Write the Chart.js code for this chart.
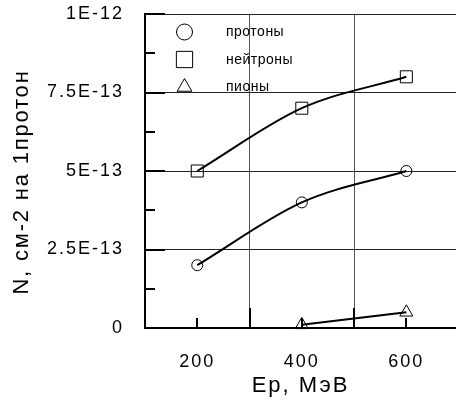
<!DOCTYPE html>
<html lang="ru">
<head>
<meta charset="UTF-8">
<title>N от Ep</title>
<script src="https://cdn.jsdelivr.net/npm/chart.js"></script>
<style>
  html, body { margin: 0; padding: 0; background: #fff; }
</style>
</head>
<body>
<div style="width: 456px; height: 402px">
  <canvas id="myChart" width="456" height="402"></canvas>
</div>
<script>
// данные
const energy = [200, 400, 600];
const protons = [2e-13, 4e-13, 5e-13];
const neutrons = [5e-13, 7e-13, 8e-13];
const pionEnergy = [400, 600];
const pions = [1e-14, 5e-14];
const seriesNames = ['протоны', 'нейтроны', 'пионы'];

const xTickLabels = [200, 400, 600];
const xGridValues = [300, 500];
const yTickValues = [0, 2.5e-13, 5e-13, 7.5e-13, 1e-12];
const yTickLabels = ['0', '2.5E-13', '5E-13', '7.5E-13', '1E-12'];
const yMinorStep = 1.25e-13;
const xTitle = 'Ep, МэВ';
const yTitle = 'N, см-2 на 1протон';

const FONT = 'Arial, "Liberation Sans", sans-serif';
Chart.defaults.font.family = FONT;
Chart.defaults.color = '#000';

function pairs(xs, ys) {
    return xs.map((x, i) => ({ x: x, y: ys[i] }));
}

// разрядка букв как в оригинале
const spacing = {
    id: 'spacing',
    beforeDraw(chart) {
        chart.ctx.letterSpacing = '2px';
    }
};

// верхняя рамка, засечки на осях, подпись оси Y
const frame = {
    id: 'frame',
    afterDatasetsDraw(chart) {
        const { ctx, chartArea: a, scales } = chart;
        ctx.save();
        ctx.strokeStyle = '#222';
        ctx.lineWidth = 1;
        ctx.beginPath();
        ctx.moveTo(a.left, a.top + 0.5);
        ctx.lineTo(a.right, a.top + 0.5);
        ctx.stroke();

        ctx.strokeStyle = '#000';
        ctx.lineWidth = 2;
        ctx.beginPath();
        for (let i = 0; i <= 8; i++) {
            const y = Math.round(scales.y.getPixelForValue(i * yMinorStep));
            const len = i % 2 === 0 ? 20 : 10;
            ctx.moveTo(a.left, y);
            ctx.lineTo(a.left + len, y);
        }
        [...xTickLabels, ...xGridValues].forEach(v => {
            const x = Math.round(scales.x.getPixelForValue(v));
            const len = xGridValues.includes(v) ? 20 : 10;
            ctx.moveTo(x, a.bottom);
            ctx.lineTo(x, a.bottom - len);
        });
        ctx.stroke();

        ctx.font = '22px ' + FONT;
        ctx.letterSpacing = '1.8px';
        ctx.fillStyle = '#000';
        ctx.textAlign = 'center';
        ctx.textBaseline = 'middle';
        ctx.translate(22, 182);
        ctx.rotate(-Math.PI / 2);
        ctx.fillText(yTitle, 0, 0);
        ctx.restore();
    }
};

function drawMarker(ctx, style, x, y, r) {
    ctx.beginPath();
    if (style === 'circle') {
        ctx.arc(x, y, r, 0, Math.PI * 2);
    } else if (style === 'rect') {
        const s = r * Math.SQRT1_2;
        ctx.rect(x - s, y - s, 2 * s, 2 * s);
    } else {
        ctx.moveTo(x, y - r);
        ctx.lineTo(x + r * 0.866, y + r / 2);
        ctx.lineTo(x - r * 0.866, y + r / 2);
        ctx.closePath();
    }
    ctx.stroke();
}

// легенда внутри поля графика
const legendBox = {
    id: 'legendBox',
    afterDraw(chart) {
        const { ctx } = chart;
        ctx.save();
        ctx.strokeStyle = '#000';
        ctx.lineWidth = 1;
        ctx.fillStyle = '#000';
        ctx.font = '14px ' + FONT;
        ctx.letterSpacing = '0.5px';
        ctx.textAlign = 'left';
        ctx.textBaseline = 'alphabetic';
        chart.data.datasets.forEach((ds, i) => {
            const y = 32 + i * 27.5;
            const r = ds.pointStyle === 'rect' ? 11.5 : (ds.pointStyle === 'circle' ? 8 : 8.5);
            drawMarker(ctx, ds.pointStyle, 184.5, y, r);
            ctx.fillText(ds.label, 226, y + 4);
        });
        ctx.restore();
    }
};

const baseSet = {
    borderColor: '#000',
    borderWidth: 2,
    pointBorderColor: '#000',
    pointBackgroundColor: 'rgba(0,0,0,0)',
    pointBorderWidth: 1,
    cubicInterpolationMode: 'monotone',
    clip: false
};

const ctx = document.getElementById('myChart').getContext('2d');
new Chart(ctx, {
    type: 'line',
    data: {
        datasets: [
            { ...baseSet, label: seriesNames[0], data: pairs(energy, protons), pointStyle: 'circle', pointRadius: 5.5 },
            { ...baseSet, label: seriesNames[1], data: pairs(energy, neutrons), pointStyle: 'rect', pointRadius: 8.5 },
            { ...baseSet, label: seriesNames[2], data: pairs(pionEnergy, pions), pointStyle: 'triangle', pointRadius: 7.5, cubicInterpolationMode: 'default', tension: 0 }
        ]
    },
    options: {
        responsive: false,
        animation: false,
        devicePixelRatio: 1,
        layout: { padding: 0, autoPadding: false },
        plugins: {
            legend: { display: false },
            tooltip: { enabled: false }
        },
        scales: {
            x: {
                type: 'linear',
                min: 100,
                max: 695,
                afterBuildTicks: s => {
                    s.ticks = [100, ...xTickLabels, ...xGridValues].sort((a, b) => a - b).map(v => ({ value: v }));
                },
                afterFit: s => {
                    s.height = 74;
                    s.paddingLeft = 0;
                    s.paddingRight = 0;
                },
                grid: {
                    drawTicks: false,
                    lineWidth: 1,
                    color: c => (c.tick && xGridValues.includes(c.tick.value)) ? '#555' : 'rgba(0,0,0,0)'
                },
                border: { color: '#000', width: 2 },
                ticks: {
                    padding: 23,
                    maxRotation: 0,
                    autoSkip: false,
                    font: { size: 18 },
                    callback: v => xTickLabels.includes(v) ? String(v) : ''
                },
                title: {
                    display: true,
                    text: xTitle,
                    font: { size: 22 },
                    padding: { top: 0, bottom: 3 }
                }
            },
            y: {
                min: 0,
                max: 1e-12,
                afterBuildTicks: s => {
                    s.ticks = yTickValues.map(v => ({ value: v }));
                },
                afterFit: s => {
                    s.width = 145;
                    s.paddingTop = 14;
                    s.paddingBottom = 0;
                },
                grid: {
                    drawTicks: false,
                    lineWidth: 1,
                    color: c => (c.index > 0 && c.index < yTickValues.length - 1) ? '#222' : 'rgba(0,0,0,0)'
                },
                border: { color: '#000', width: 2 },
                ticks: {
                    padding: 21,
                    autoSkip: false,
                    font: { size: 18 },
                    callback: (v, i) => yTickLabels[i]
                }
            }
        }
    },
    plugins: [spacing, frame, legendBox]
});
</script>
</body>
</html>
